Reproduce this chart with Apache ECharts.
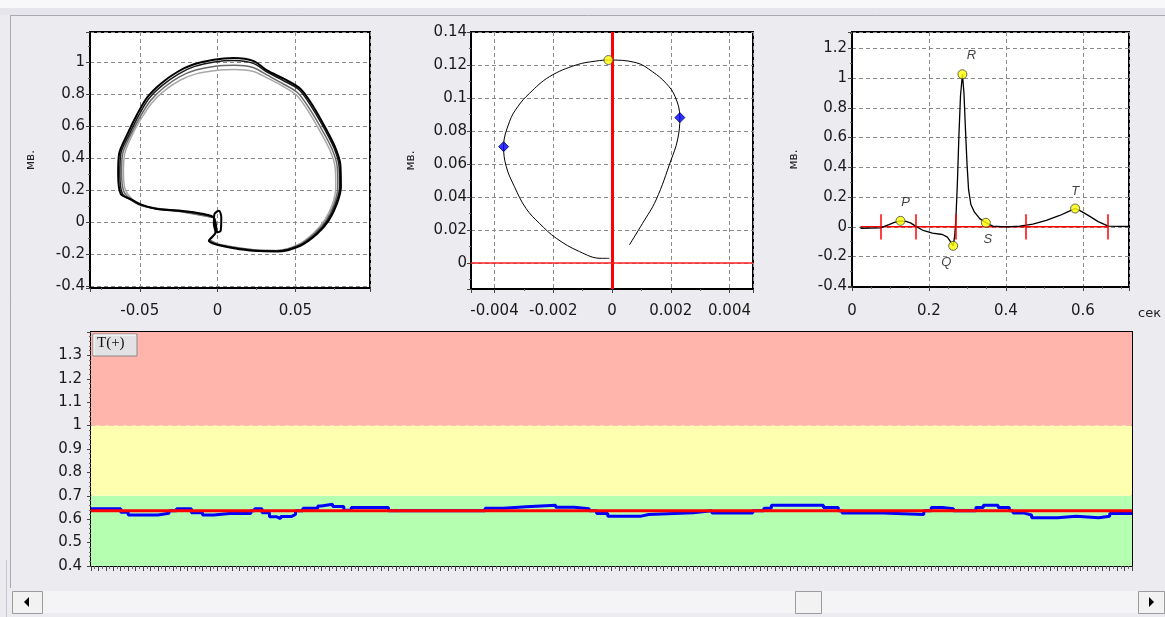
<!DOCTYPE html>
<html><head><meta charset="utf-8">
<script src="https://cdn.jsdelivr.net/npm/echarts@6/dist/echarts.min.js"></script>
<style>html,body{margin:0;padding:0;background:#ECEBF0;}#c{width:1165px;height:617px;}</style>
</head><body><div id="c"></div>
<script>
// ---- Chart 1: QRS loops (x, y) ----
const loopA = [[-0.0006,-0.063],[-0.0024,0.031],[-0.0088,0.052],[-0.0237,0.073],[-0.0387,0.0835],[-0.049,0.111],[-0.0558,0.146],[-0.0622,0.177],[-0.0639,0.303],[-0.0633,0.428],[-0.0579,0.553],[-0.0515,0.679],[-0.0451,0.783],[-0.0365,0.867],[-0.0259,0.94],[-0.0152,0.988],[-0.0024,1.017],[0.0105,1.027],[0.0233,1.008],[0.0318,0.95],[0.0425,0.898],[0.0532,0.835],[0.0618,0.72],[0.0703,0.574],[0.0756,0.47],[0.0789,0.365],[0.0793,0.219],[0.0767,0.115],[0.0714,0.0104],[0.0639,-0.073],[0.0532,-0.146],[0.0383,-0.182],[0.0233,-0.177],[0.0105,-0.161],[-0.0002,-0.14],[-0.0056,-0.115],[-0.0034,-0.09],[-0.0013,-0.063],[-0.0024,-0.01],[-0.002,0.052],[0.0009,0.073],[0.0024,0.031],[0.002,-0.052],[-0.0006,-0.063]];
const loopB = [[-0.0024,0.031],[-0.0088,0.05],[-0.0237,0.07],[-0.0387,0.082],[-0.049,0.108],[-0.0555,0.14],[-0.0612,0.18],[-0.0628,0.30],[-0.0622,0.43],[-0.0568,0.55],[-0.0505,0.672],[-0.0441,0.774],[-0.0355,0.856],[-0.0252,0.927],[-0.0147,0.975],[-0.002,1.003],[0.0105,1.012],[0.023,0.994],[0.0318,0.94],[0.0422,0.887],[0.0527,0.826],[0.061,0.713],[0.0695,0.57],[0.0748,0.467],[0.078,0.363],[0.0785,0.22],[0.0758,0.115],[0.0707,0.012],[0.0632,-0.071],[0.0527,-0.144],[0.038,-0.179],[0.0233,-0.175],[0.0105,-0.159],[0.0,-0.138],[-0.0055,-0.113],[-0.003,-0.088],[-0.001,-0.06]];
const loopC = [[-0.0024,0.031],[-0.0237,0.068],[-0.049,0.106],[-0.0565,0.15],[-0.0605,0.2],[-0.0617,0.31],[-0.061,0.43],[-0.0558,0.55],[-0.0495,0.665],[-0.043,0.762],[-0.0345,0.843],[-0.0245,0.91],[-0.014,0.952],[-0.0015,0.976],[0.011,0.982],[0.0228,0.968],[0.032,0.92],[0.0418,0.868],[0.0515,0.81],[0.0598,0.7],[0.0682,0.56],[0.0735,0.46],[0.0768,0.358],[0.0773,0.22],[0.0748,0.112],[0.0698,0.012],[0.0625,-0.068],[0.0522,-0.141],[0.038,-0.177],[0.0233,-0.173],[0.0105,-0.156],[0.0,-0.136],[-0.005,-0.11]];
const loopD = [[-0.0024,0.031],[-0.0237,0.066],[-0.0485,0.102],[-0.0555,0.15],[-0.0595,0.21],[-0.0605,0.31],[-0.0597,0.43],[-0.0547,0.55],[-0.0485,0.658],[-0.042,0.75],[-0.0335,0.828],[-0.0238,0.89],[-0.0133,0.93],[-0.001,0.95],[0.011,0.955],[0.0225,0.945],[0.0315,0.905],[0.0413,0.855],[0.0508,0.795],[0.0588,0.688],[0.067,0.55],[0.0722,0.452],[0.0755,0.352],[0.076,0.22],[0.0737,0.11],[0.0688,0.014],[0.0618,-0.066],[0.0517,-0.139],[0.038,-0.175],[0.0233,-0.171],[0.0105,-0.154],[0.0,-0.134],[-0.005,-0.11]];

// ---- Chart 2: T loop ----
const tLoop = [[-0.00009,0.0028],[-0.00037,0.0028],[-0.00111,0.0069],[-0.0019,0.015],[-0.00247,0.024],[-0.00293,0.0331],[-0.00332,0.0462],[-0.0036,0.0584],[-0.00369,0.0705],[-0.00349,0.0856],[-0.00321,0.0947],[-0.00281,0.1028],[-0.00213,0.1129],[-0.00122,0.12],[-0.00054,0.1224],[-0.00012,0.123],[0.00082,0.1214],[0.00138,0.1159],[0.00184,0.1089],[0.00215,0.1008],[0.00231,0.0881],[0.00223,0.0745],[0.00201,0.0624],[0.0015,0.0382],[0.00104,0.024],[0.00059,0.0109]];
const tLoopBlue = [[-0.00369,0.0705],[0.00231,0.0881]];
const tLoopYellow = [[-0.00012,0.123]];
const tLoopRedX = -0.00003;

// ---- Chart 3: averaged complex ----
const ecg = [[0.022,-0.01],[0.074,-0.008],[0.096,0.015],[0.11,0.03],[0.126,0.04],[0.14,0.036],[0.152,0.026],[0.166,0.003],[0.183,-0.022],[0.209,-0.042],[0.235,-0.052],[0.248,-0.07],[0.256,-0.1],[0.263,-0.128],[0.267,-0.06],[0.27,0.05],[0.274,0.3],[0.278,0.62],[0.282,0.88],[0.287,1.026],[0.291,0.9],[0.295,0.65],[0.299,0.42],[0.303,0.25],[0.309,0.15],[0.318,0.1],[0.332,0.055],[0.348,0.027],[0.366,0.004],[0.401,0],[0.436,0.004],[0.47,0.018],[0.505,0.043],[0.54,0.076],[0.565,0.105],[0.58,0.123],[0.595,0.105],[0.615,0.075],[0.64,0.035],[0.666,0.004],[0.72,0.002]];
const waveNames = ['P','Q','R','S','T'];
const wavePoints = [[0.126,0.04],[0.263,-0.128],[0.287,1.026],[0.348,0.027],[0.58,0.123]];
const redTicks = [0.0758,0.1646,0.2692,0.4504,0.666];
const redBase = [[0.022,0],[0.666,0]];
const tickHalf = 0.085;

// ---- Chart 4: T(+) trend ----
const trendIdx = [0,8,10,18,21,23,27,30,33,38,43,44,46,48,50,51,54,55,57,61,62,65,68,70,80,106,111,117,125,130,134,136,139,148,150,162,167,178,181,183,197,201,202,213,224,226,229,232,238,240,244,247,248,251,253,260,265,271,274,280];
const trendVal = [0.645,0.63,0.618,0.625,0.636,0.645,0.628,0.618,0.625,0.624,0.636,0.645,0.628,0.61,0.602,0.612,0.62,0.636,0.647,0.656,0.664,0.654,0.638,0.65,0.636,0.647,0.653,0.66,0.651,0.645,0.636,0.624,0.613,0.62,0.628,0.636,0.626,0.636,0.647,0.66,0.65,0.636,0.627,0.62,0.636,0.65,0.645,0.636,0.65,0.66,0.65,0.636,0.626,0.618,0.606,0.613,0.606,0.613,0.624,0.624];
const trendRef = 0.636;
const zoneBounds = [0.4, 0.7, 1.0, 1.4];
const zoneColors = ['#B4FFB0', '#FFFFB0', '#FFB4AC'];

const FONT = 'DejaVu Sans';
const lbl = {color:'#1a1a1a', fontSize:15, fontFamily:FONT};
const dash = {show:true, lineStyle:{color:'#8a8a8a', type:[4,3], width:1}};
const tick = {show:true, length:4, lineStyle:{color:'#444'}};
const minor = n => ({show:true, splitNumber:n, length:2, lineStyle:{color:'#666'}});
const axLine = {show:true, onZero:false, lineStyle:{color:'#000', width:2}};
const yName = {fontSize:12, fontFamily:FONT, color:'#222'};

const chart = echarts.init(document.getElementById('c'), null, {renderer:'canvas'});
const option = {
  animation:false,
  backgroundColor:'#ECEBF0',
  grid:[
    {left:90, top:32, width:280, height:256, show:true, backgroundColor:'#fff', borderColor:'#000', borderWidth:2},
    {left:471, top:32, width:282, height:257, show:true, backgroundColor:'#fff', borderColor:'#000', borderWidth:2},
    {left:852, top:32, width:277, height:255, show:true, backgroundColor:'#fff', borderColor:'#000', borderWidth:2},
    {left:91, top:332, width:1041, height:234, show:true, backgroundColor:'#fff', borderColor:'#000', borderWidth:2}
  ],
  xAxis:[
    {gridIndex:0, type:'value', min:-0.082, max:0.098, splitNumber:4, axisLine:axLine, axisTick:tick, minorTick:minor(2), splitLine:dash, axisLabel:Object.assign({margin:16, showMinLabel:false, showMaxLabel:false}, lbl)},
    {gridIndex:1, type:'value', min:-0.0048, max:0.0048, splitNumber:5, axisLine:axLine, axisTick:tick, minorTick:minor(2), splitLine:dash, axisLabel:Object.assign({margin:15, showMinLabel:false, showMaxLabel:false}, lbl)},
    {gridIndex:2, type:'value', min:0, max:0.72, splitNumber:4, axisLine:axLine, axisTick:tick, minorTick:minor(4), splitLine:dash, axisLabel:Object.assign({margin:17, showMaxLabel:false}, lbl)},
    {gridIndex:3, type:'value', min:0, max:280, interval:2, axisLine:axLine, axisTick:{show:true, length:5, lineStyle:{color:'#444'}}, minorTick:{show:true, splitNumber:2, length:3, lineStyle:{color:'#666'}}, splitLine:{show:false}, axisLabel:{show:false}}
  ],
  yAxis:[
    {gridIndex:0, type:'value', min:-0.41, max:1.19, splitNumber:8, name:'мв.', nameLocation:'middle', nameGap:53, nameTextStyle:yName, axisLine:axLine, axisTick:tick, minorTick:minor(2), splitLine:dash, axisLabel:Object.assign({margin:5, showMinLabel:false, showMaxLabel:false}, lbl)},
    {gridIndex:1, type:'value', min:-0.0158, max:0.14, splitNumber:7, name:'мв.', nameLocation:'middle', nameGap:54, nameTextStyle:yName, axisLine:axLine, axisTick:tick, minorTick:minor(2), splitLine:dash, axisLabel:Object.assign({margin:4, showMinLabel:false}, lbl)},
    {gridIndex:2, type:'value', min:-0.405, max:1.31, splitNumber:8, name:'мв.', nameLocation:'middle', nameGap:52, nameTextStyle:yName, axisLine:axLine, axisTick:tick, minorTick:minor(2), splitLine:dash, axisLabel:Object.assign({margin:5, showMinLabel:false, showMaxLabel:false}, lbl)},
    {gridIndex:3, type:'value', min:0.4, max:1.4, interval:0.1, axisLine:axLine, axisTick:tick, minorTick:minor(5), splitLine:{show:true, lineStyle:{color:'#b8b0b8', type:[5,4], width:1}}, axisLabel:Object.assign({margin:9, showMaxLabel:false}, lbl)}
  ],
  series:[
    {type:'line', xAxisIndex:0, yAxisIndex:0, data:loopD, smooth:0.3, symbol:'none', lineStyle:{color:'#a8a8a8', width:1.5}, z:2},
    {type:'line', xAxisIndex:0, yAxisIndex:0, data:loopC, smooth:0.3, symbol:'none', lineStyle:{color:'#6a6a6a', width:1.5}, z:3},
    {type:'line', xAxisIndex:0, yAxisIndex:0, data:loopB, smooth:0.3, symbol:'none', lineStyle:{color:'#1a1a1a', width:1.5}, z:4},
    {type:'line', xAxisIndex:0, yAxisIndex:0, data:loopA, smooth:0.3, symbol:'none', lineStyle:{color:'#000', width:2}, z:5},

    {type:'line', xAxisIndex:1, yAxisIndex:1, data:tLoop, smooth:0.4, symbol:'none', lineStyle:{color:'#000', width:1}, z:3,
      markLine:{silent:true, symbol:'none', label:{show:false}, animation:false,
        data:[{xAxis:tLoopRedX, lineStyle:{color:'#ff0000', width:3, type:'solid'}},
              {yAxis:0, lineStyle:{color:'#ff2020', width:1.5, type:'solid'}}]}},
    {type:'scatter', xAxisIndex:1, yAxisIndex:1, data:tLoopBlue, symbol:'diamond', symbolSize:10, itemStyle:{color:'#0000ff', borderColor:'#000060', borderWidth:1}, z:6},
    {type:'scatter', xAxisIndex:1, yAxisIndex:1, data:tLoopYellow, symbol:'circle', symbolSize:9, itemStyle:{color:'#ffff00', borderColor:'#444', borderWidth:1}, z:6},

    {type:'line', xAxisIndex:2, yAxisIndex:2, data:redBase, symbol:'none', lineStyle:{color:'#ff0000', width:1.5}, z:2,
      markLine:{silent:true, symbol:'none', label:{show:false}, animation:false, lineStyle:{color:'#ff0000', width:1.5, type:'solid'},
        data: redTicks.map(x => [{coord:[x, -tickHalf]}, {coord:[x, tickHalf]}])}},
    {type:'line', xAxisIndex:2, yAxisIndex:2, data:ecg, symbol:'none', lineStyle:{color:'#000', width:1.3}, z:3},
    {type:'scatter', xAxisIndex:2, yAxisIndex:2, symbol:'circle', symbolSize:9, itemStyle:{color:'#ffff00', borderColor:'#444', borderWidth:1}, z:6,
      data: wavePoints.map((p, i) => {
        const pos = [['top',[5,-2]],['bottom',[-7,0]],['top',[9,-2]],['bottom',[2,0]],['top',[0,-1]]][i];
        return {value:p, name:waveNames[i], label:{show:true, formatter:waveNames[i], position:pos[0], offset:pos[1], fontStyle:'italic', fontSize:13, fontFamily:'Liberation Sans', color:'#111'}};
      })},

    {type:'line', xAxisIndex:3, yAxisIndex:3, data:trendIdx.map((x,i)=>[x, trendVal[i]]), step:'end', symbol:'none', lineStyle:{color:'#0000ff', width:3}, z:3},
    {type:'line', xAxisIndex:3, yAxisIndex:3, data:[[0,trendRef],[280,trendRef]], symbol:'none', lineStyle:{color:'#ff0000', width:3}, z:4,
      markArea:{silent:true, data: zoneColors.map((c,i)=>[{yAxis:zoneBounds[i], itemStyle:{color:c, opacity:1}}, {yAxis:zoneBounds[i+1]}])}}
  ],
  graphic:[
    {type:'rect', shape:{x:0,y:0,width:1165,height:8}, style:{fill:'#F8F8FA'}, silent:true, z:-1},
    {type:'rect', shape:{x:0,y:8,width:1165,height:7}, style:{fill:'#E6E5EB'}, silent:true, z:-1},
    {type:'line', shape:{x1:10,y1:15.5,x2:1165,y2:15.5}, style:{stroke:'#A9A9B2', lineWidth:1}, silent:true},
    {type:'line', shape:{x1:10.5,y1:15,x2:10.5,y2:588}, style:{stroke:'#A9A9B2', lineWidth:1}, silent:true},
    {type:'line', shape:{x1:6.5,y1:560,x2:6.5,y2:617}, style:{stroke:'#C8C8D0', lineWidth:1}, silent:true},
    {type:'text', left:1138, top:307, style:{text:'сек', fontSize:13, fontFamily:FONT, fill:'#222'}},
    // T(+) box
    {type:'rect', shape:{x:93,y:334,width:44,height:22}, style:{fill:'#E2E2E4', stroke:'#8a8a8a', lineWidth:1}, z:100},
    {type:'line', shape:{x1:94,y1:335,x2:136,y2:335}, style:{stroke:'#ffffff', lineWidth:1}, z:101},
    {type:'line', shape:{x1:94,y1:335,x2:94,y2:355}, style:{stroke:'#ffffff', lineWidth:1}, z:101},
    {type:'text', left:97, top:336, style:{text:'T(+)', fontSize:15, fontFamily:'Liberation Serif', fill:'#111'}, z:102},
    // scrollbar
    {type:'rect', shape:{x:42,y:591,width:1096,height:22}, style:{fill:'#F4F4F6'}, silent:true},
    {type:'rect', shape:{x:12.5,y:591.5,width:30,height:22}, style:{fill:'#F2F2F2', stroke:'#9c9c9c', lineWidth:1}, silent:true},
    {type:'polygon', shape:{points:[[24,602],[29,597],[29,607]]}, style:{fill:'#000'}, silent:true},
    {type:'rect', shape:{x:1138.5,y:591.5,width:26,height:22}, style:{fill:'#F2F2F2', stroke:'#9c9c9c', lineWidth:1}, silent:true},
    {type:'polygon', shape:{points:[[1154,602],[1149,597],[1149,607]]}, style:{fill:'#000'}, silent:true},
    {type:'rect', shape:{x:795.5,y:591.5,width:26,height:22}, style:{fill:'#F2F2F2', stroke:'#9c9c9c', lineWidth:1}, silent:true}
  ]
};
chart.setOption(option);
</script></body></html>
